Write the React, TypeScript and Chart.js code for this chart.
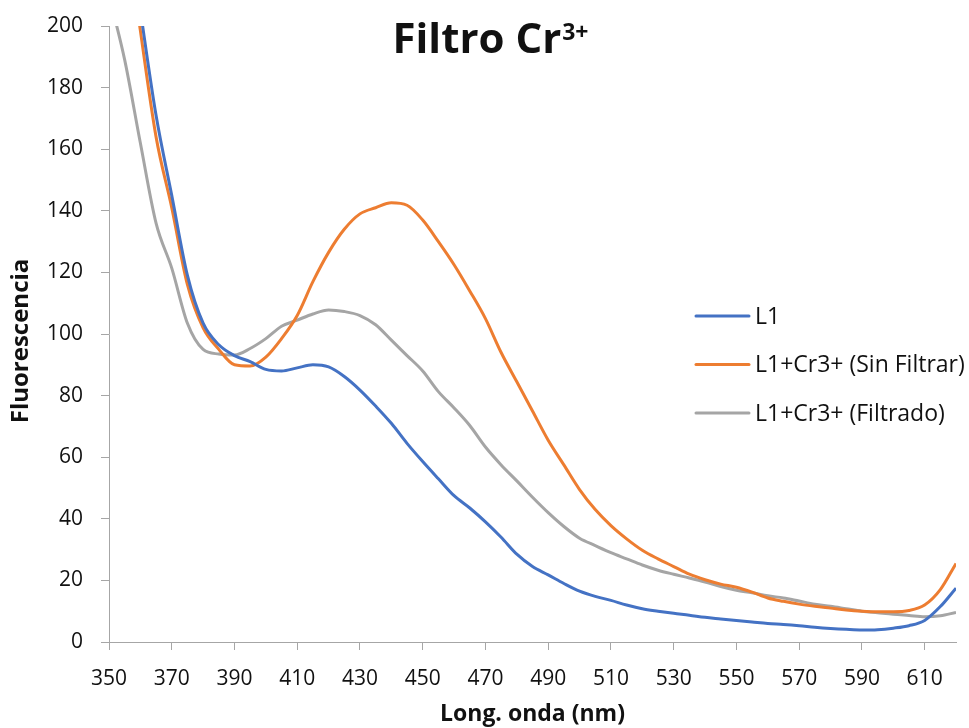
import { useEffect, useRef } from 'react';
import { Chart, registerables } from 'chart.js';

Chart.register(...registerables);

// Emission wavelength (nm), sampled every 5 nm
const wavelengths = [
  350, 355, 360, 365, 370, 375, 380, 385, 390, 395, 400, 405, 410, 415, 420, 425, 430, 435, 440,
  445, 450, 455, 460, 465, 470, 475, 480, 485, 490, 495, 500, 505, 510, 515, 520, 525, 530, 535,
  540, 545, 550, 555, 560, 565, 570, 575, 580, 585, 590, 595, 600, 605, 610, 615, 620,
];

// Fluorescence of the ligand alone
const l1 = [
  280, 240, 205, 171, 145, 119, 103.5, 96.5, 93, 91, 88.5, 88, 89, 90, 89.3, 86.2, 81.8, 76.6, 71,
  64.5, 58.6, 53, 47.5, 43.5, 39, 34, 28.5, 24.5, 21.8, 19, 16.5, 14.8, 13.5, 12, 10.8, 10, 9.3, 8.7,
  8, 7.5, 7, 6.5, 6, 5.7, 5.3, 4.8, 4.4, 4.1, 3.9, 4, 4.5, 5.3, 7, 11.5, 17.5,
];

// Ligand + Cr3+, unfiltered
const l1Cr3SinFiltrar = [
  280, 236, 198.5, 164, 141, 116, 102, 95, 90, 89.6, 92.5, 98.5, 106, 117, 126.5, 134, 139, 141,
  142.6, 141.8, 137, 130, 122.5, 114, 105, 94, 84.5, 75, 65.5, 57.5, 49.5, 43, 37.8, 33.5, 29.8, 27,
  24.5, 22, 20.2, 18.8, 17.8, 16.2, 14.3, 13.2, 12.3, 11.6, 11, 10.4, 10, 9.8, 9.8, 10.2, 12, 17,
  25.5,
];

// Ligand + Cr3+, filtered
const l1Cr3Filtrado = [
  210, 189, 162, 136, 121.4, 103.5, 95, 93.5, 93.2, 95.3, 98.5, 102.5, 104.5, 106.5, 107.8, 107.3,
  106, 103, 98, 93, 88, 81.3, 76, 70.3, 63.3, 57.5, 52.3, 47, 42, 37.5, 33.7, 31.3, 29, 27, 25, 23.3,
  22, 20.8, 19.5, 18, 16.8, 16, 15, 14.3, 13.3, 12.3, 11.6, 10.8, 10, 9.5, 9, 8.6, 8.2, 8.5, 9.6,
];

const xTickValues = [350, 370, 390, 410, 430, 450, 470, 490, 510, 530, 550, 570, 590, 610];
const xMin = 350;
const xMax = 620;
const yMin = 0;
const yMax = 200;
const yStep = 20;

const seriesNames = ['L1', 'L1+Cr3+ (Sin Filtrar)', 'L1+Cr3+ (Filtrado)'];
const seriesValues = [l1, l1Cr3SinFiltrar, l1Cr3Filtrado];
const seriesColors = ['#4472C4', '#ED7D31', '#A5A5A5'];

const titleMain = 'Filtro Cr';
const titleSup = '3+';
const xTitle = 'Long. onda (nm)';
const yTitle = 'Fluorescencia';

const FONT = '"Open Sans", "DejaVu Sans", sans-serif';
const AXIS_COLOR = '#A6A6A6';
const TEXT_COLOR = '#111111';

// Title with a raised charge label, drawn over the top of the plot
const titlePlugin = {
  id: 'superscriptTitle',
  afterDraw(chart: Chart) {
    const ctx = chart.ctx;
    ctx.save();
    ctx.fillStyle = TEXT_COLOR;
    ctx.textBaseline = 'alphabetic';
    ctx.textAlign = 'left';
    const mainFont = `bold 42px ${FONT}`;
    const supFont = `bold 23px ${FONT}`;
    ctx.font = mainFont;
    const wMain = ctx.measureText(titleMain).width;
    ctx.font = supFont;
    const wSup = ctx.measureText(titleSup).width;
    const cx = 490;
    const baseline = 53;
    const x0 = cx - (wMain + wSup) / 2;
    ctx.font = mainFont;
    ctx.fillText(titleMain, x0, baseline);
    ctx.font = supFont;
    ctx.fillText(titleSup, x0 + wMain + 1, baseline - 13);
    ctx.restore();
  },
};

// Vertical axis caption, set a little below the middle of the value axis
const yTitlePlugin = {
  id: 'valueAxisCaption',
  afterDraw(chart: Chart) {
    const ctx = chart.ctx;
    const area = chart.chartArea;
    ctx.save();
    ctx.translate(21, (area.top + area.bottom) / 2 + 7);
    ctx.rotate(-Math.PI / 2);
    ctx.font = `bold 24px ${FONT}`;
    ctx.fillStyle = TEXT_COLOR;
    ctx.textAlign = 'center';
    ctx.textBaseline = 'middle';
    ctx.fillText(yTitle, 0, 0);
    ctx.restore();
  },
};

// Line-sample legend sitting inside the plot, on the right
const legendPlugin = {
  id: 'insetLegend',
  afterDraw(chart: Chart) {
    const ctx = chart.ctx;
    const left = 696;
    const top = 316;
    const rowGap = 48.5;
    const sample = 53;
    ctx.save();
    ctx.font = `23px ${FONT}`;
    ctx.textBaseline = 'middle';
    ctx.textAlign = 'left';
    chart.data.datasets.forEach((ds, i) => {
      const y = top + i * rowGap;
      ctx.strokeStyle = ds.borderColor as string;
      ctx.lineWidth = 3;
      ctx.lineCap = 'round';
      ctx.beginPath();
      ctx.moveTo(left, y);
      ctx.lineTo(left + sample, y);
      ctx.stroke();
      ctx.fillStyle = TEXT_COLOR;
      ctx.fillText(ds.label as string, left + sample + 6, y + 1);
    });
    ctx.restore();
  },
};

export default function App() {
  const canvasRef = useRef<HTMLCanvasElement | null>(null);

  useEffect(() => {
    const canvas = canvasRef.current;
    if (!canvas) return;

    const datasets = seriesNames.map((name, i) => ({
      label: name,
      data: wavelengths.map((w, j) => ({ x: w, y: seriesValues[i][j] })),
      borderColor: seriesColors[i],
      backgroundColor: seriesColors[i],
      borderWidth: 3,
      pointRadius: 0,
      pointHoverRadius: 0,
      cubicInterpolationMode: 'monotone' as const,
      fill: false,
    }));

    const chart = new Chart(canvas, {
      type: 'line',
      data: { datasets },
      options: {
        responsive: false,
        animation: false,
        devicePixelRatio: 1,
        layout: { padding: { top: 26, right: 13, left: 0, bottom: 0 } },
        plugins: {
          legend: { display: false },
          title: { display: false },
          tooltip: { enabled: false },
        },
        scales: {
          x: {
            type: 'linear',
            min: xMin,
            max: xMax,
            afterBuildTicks: (scale: any) => {
              scale.ticks = xTickValues.map((v) => ({ value: v }));
            },
            afterFit: (scale: any) => {
              scale.height = 86;
              scale.paddingLeft = 0;
              scale.paddingRight = 0;
            },
            grid: {
              drawOnChartArea: false,
              drawTicks: true,
              tickLength: 8,
              color: AXIS_COLOR,
            },
            border: { display: true, color: AXIS_COLOR, width: 1 },
            ticks: {
              autoSkip: false,
              maxRotation: 0,
              padding: 16,
              color: TEXT_COLOR,
              font: { family: FONT, size: 21 },
              callback: (v: any) => String(v),
            },
            title: {
              display: true,
              text: xTitle,
              color: TEXT_COLOR,
              font: { family: FONT, size: 23, weight: 'bold' },
              padding: { top: 0, bottom: 0 },
            },
          },
          y: {
            type: 'linear',
            min: yMin,
            max: yMax,
            afterFit: (scale: any) => {
              scale.width = 109;
              scale.paddingTop = 0;
              scale.paddingBottom = 0;
            },
            grid: {
              drawOnChartArea: false,
              drawTicks: true,
              tickLength: 8,
              color: AXIS_COLOR,
            },
            border: { display: true, color: AXIS_COLOR, width: 1 },
            ticks: {
              stepSize: yStep,
              padding: 18,
              color: TEXT_COLOR,
              font: { family: FONT, size: 21 },
            },
            title: { display: false },
          },
        },
      },
      plugins: [titlePlugin, yTitlePlugin, legendPlugin],
    });

    return () => chart.destroy();
  }, []);

  return (
    <div style={{ position: 'fixed', left: 0, top: 0, width: 969, height: 728, background: '#fff' }}>
      <canvas ref={canvasRef} width={969} height={728} style={{ display: 'block' }} />
    </div>
  );
}
